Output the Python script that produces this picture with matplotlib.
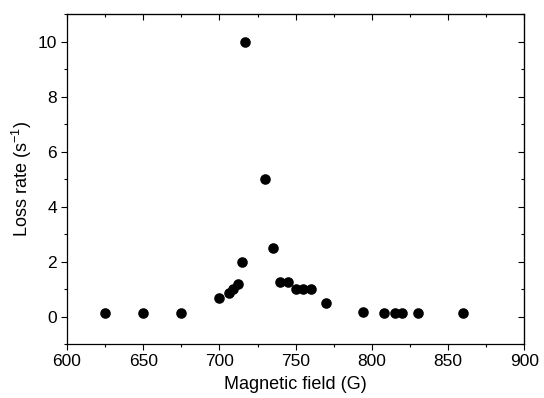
import matplotlib

matplotlib.use("Agg")
import matplotlib.pyplot as plt
from matplotlib.ticker import MultipleLocator

# Loss rate vs magnetic field
field = [625, 650, 675, 700, 706, 709, 712, 715, 717, 730, 735,
         740, 745, 750, 755, 760, 770, 794, 808, 815, 820, 830, 860]
loss = [0.12, 0.12, 0.15, 0.68, 0.87, 1.02, 1.2, 2.0, 10.0, 5.0, 2.5,
        1.28, 1.28, 1.0, 1.0, 1.0, 0.5, 0.17, 0.12, 0.12, 0.12, 0.12, 0.12]

plt.rcParams["font.family"] = ["Liberation Sans", "DejaVu Sans"]
plt.rcParams["mathtext.fontset"] = "custom"
plt.rcParams["mathtext.rm"] = "Liberation Sans"

fig = plt.figure(figsize=(5.44, 3.98), dpi=100)
ax = fig.add_axes([0.123, 0.135, 0.841, 0.829])

ax.scatter(field, loss, s=58, color="black", zorder=3, linewidths=0)

ax.set_xlim(600, 900)
ax.set_ylim(-1, 11)
ax.xaxis.set_major_locator(MultipleLocator(50))
ax.xaxis.set_minor_locator(MultipleLocator(25))
ax.yaxis.set_major_locator(MultipleLocator(2))
ax.yaxis.set_minor_locator(MultipleLocator(1))

for spine in ax.spines.values():
    spine.set_linewidth(0.9)

# outward ticks on left/bottom, inward mirror ticks on right/top
ax.tick_params(which="both", direction="out", width=0.8, labelsize=12.5, pad=3)
ax.tick_params(which="major", length=4)
ax.tick_params(which="minor", length=2.5)

axr = ax.secondary_yaxis("right")
axr.yaxis.set_major_locator(MultipleLocator(2))
axr.yaxis.set_minor_locator(MultipleLocator(1))
axr.tick_params(which="both", direction="in", labelright=False, width=0.8)
axr.tick_params(which="major", length=4)
axr.tick_params(which="minor", length=2.5)

axt = ax.secondary_xaxis("top")
axt.xaxis.set_major_locator(MultipleLocator(50))
axt.xaxis.set_minor_locator(MultipleLocator(25))
axt.tick_params(which="both", direction="in", labeltop=False, width=0.8)
axt.tick_params(which="major", length=4)
axt.tick_params(which="minor", length=2.5)

ax.set_xlabel("Magnetic field (G)", fontsize=13, labelpad=5)
ax.set_ylabel(r"Loss rate (s$^{\mathregular{-1}}$)", fontsize=13, labelpad=3)

fig.savefig("out.png", dpi=100)
